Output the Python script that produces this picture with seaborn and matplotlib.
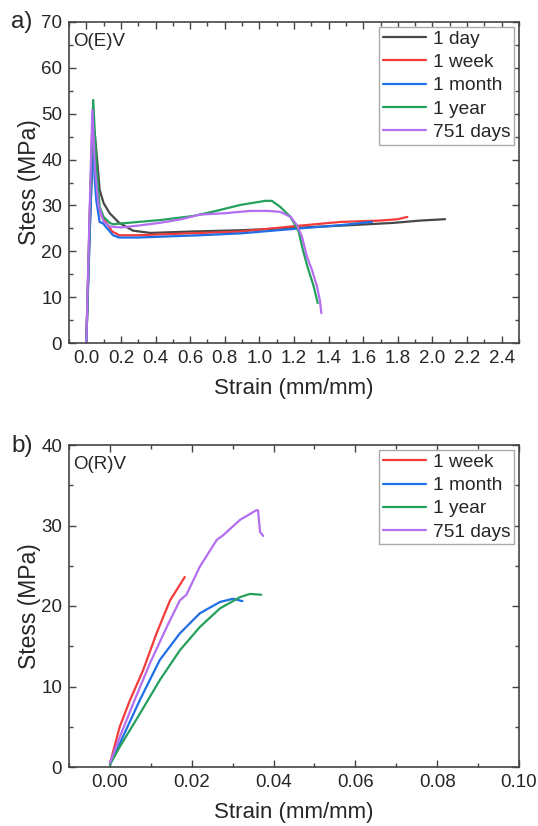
import pandas as pd
import seaborn as sns
import numpy as np
import matplotlib.pyplot as plt
from matplotlib.ticker import MultipleLocator

sns.set_style("ticks")
plt.rcParams['font.family'] = ['Liberation Sans', 'DejaVu Sans']

# panel a) O(E)V, strain (mm/mm) vs stress (MPa)
day1_x = [0.0, 0.02, 0.035, 0.048, 0.06, 0.077, 0.1, 0.135, 0.19, 0.27, 0.37, 0.6, 0.9, 1.2, 1.53, 1.776, 1.93, 2.073]
day1_y = [0, 25, 40, 46, 41, 33.4, 30.5, 28.3, 26.2, 24.5, 24.0, 24.3, 24.6, 25.1, 25.7, 26.2, 26.7, 27.0]
week1_x = [0.0, 0.02, 0.035, 0.05, 0.07, 0.09, 0.116, 0.15, 0.19, 0.3, 0.66, 0.89, 1.237, 1.468, 1.7, 1.8, 1.855]
week1_y = [0, 28, 47.5, 38, 30, 27.5, 26.2, 24.3, 23.5, 23.5, 24.0, 24.3, 25.6, 26.4, 26.7, 27.0, 27.5]
month1_x = [0.0, 0.02, 0.038, 0.048, 0.058, 0.077, 0.096, 0.154, 0.19, 0.3, 0.66, 0.89, 1.237, 1.468, 1.65]
month1_y = [0, 24, 44.7, 36, 31, 26.4, 26.1, 23.5, 23.0, 23.0, 23.5, 23.9, 25.0, 25.7, 26.4]
year1_x = [0.0, 0.02, 0.04, 0.058, 0.077, 0.1, 0.135, 0.154, 0.3, 0.425, 0.618, 0.75, 0.889, 1.034,
           1.072, 1.12, 1.18, 1.227, 1.25, 1.275, 1.3, 1.314, 1.337]
year1_y = [0, 28, 53, 39, 29.7, 27.5, 26.2, 25.9, 26.4, 26.8, 27.7, 28.8, 30.1, 31.0,
           31.0, 29.7, 27.5, 24.3, 20.5, 17.0, 14.0, 12.3, 8.7]
day751_x = [0.0, 0.02, 0.035, 0.05, 0.07, 0.1, 0.135, 0.2, 0.3, 0.425, 0.55, 0.657, 0.8, 0.947, 1.05,
            1.12, 1.18, 1.217, 1.246, 1.275, 1.304, 1.333, 1.349, 1.358]
day751_y = [0, 30, 50.8, 38, 30, 26.5, 25.4, 25.2, 25.6, 26.2, 27.0, 28.0, 28.3, 28.8, 28.8,
            28.6, 27.5, 25.7, 23.2, 18.8, 15.9, 12.3, 9.4, 6.5]

# panel b) O(R)V
r_week1_x = [0, 0.0024, 0.0049, 0.0081, 0.0114, 0.0147, 0.0183]
r_week1_y = [0.4, 5.0, 8.3, 12.0, 16.6, 20.7, 23.6]
r_month1_x = [0, 0.0024, 0.0073, 0.0122, 0.0171, 0.022, 0.0269, 0.0301, 0.0324]
r_month1_y = [0.3, 2.9, 8.3, 13.3, 16.6, 19.1, 20.5, 20.9, 20.6]
r_year1_x = [0, 0.0024, 0.0073, 0.0122, 0.0171, 0.022, 0.0269, 0.0318, 0.0342, 0.037]
r_year1_y = [0.3, 2.5, 6.6, 10.8, 14.5, 17.4, 19.7, 21.1, 21.5, 21.4]
r_day751_x = [0, 0.0024, 0.0057, 0.0098, 0.0139, 0.0171, 0.0187, 0.022, 0.0261, 0.0277, 0.0318,
              0.0358, 0.0362, 0.0367, 0.0375]
r_day751_y = [0.5, 3.7, 7.9, 12.9, 17.4, 20.7, 21.4, 24.9, 28.2, 28.8, 30.7,
              31.9, 31.9, 29.2, 28.7]

colors = {"1 day": "#474747", "1 week": "#f23b3b", "1 month": "#1f6fe6",
          "1 year": "#25a05c", "751 days": "#b46ef0"}


def make_df(curves):
	frames = []
	for label, (x, y) in curves.items():
		frames.append(pd.DataFrame({"strain": x, "stress": y, "age": label}))
	return pd.concat(frames, ignore_index=True)


df_a = make_df({"1 day": (day1_x, day1_y), "1 week": (week1_x, week1_y),
                "1 month": (month1_x, month1_y), "1 year": (year1_x, year1_y),
                "751 days": (day751_x, day751_y)})
df_b = make_df({"1 week": (r_week1_x, r_week1_y), "1 month": (r_month1_x, r_month1_y),
                "1 year": (r_year1_x, r_year1_y), "751 days": (r_day751_x, r_day751_y)})

fig = plt.figure(figsize=(5.38, 8.26), dpi=100)
ax1 = fig.add_axes([69/538, 1-343/826, 450/538, 321/826])
ax2 = fig.add_axes([69/538, 1-767/826, 450/538, 322/826])


def style_axes(ax, df, xlim, ylim, xmaj, xmin, ymaj, ymin, fmt, tag, panel, panel_y):
	sns.lineplot(data=df, x="strain", y="stress", hue="age", palette=colors, sort=False,
	             estimator=None, linewidth=1.6, ax=ax)
	ax.set_xlim(*xlim)
	ax.set_ylim(*ylim)
	ax.xaxis.set_major_locator(MultipleLocator(xmaj))
	ax.xaxis.set_minor_locator(MultipleLocator(xmin))
	ax.yaxis.set_major_locator(MultipleLocator(ymaj))
	ax.yaxis.set_minor_locator(MultipleLocator(ymin))
	ax.xaxis.set_major_formatter(plt.FormatStrFormatter(fmt))
	ax.tick_params(which="both", direction="in", top=True, right=True, labeltop=False,
	               labelright=False, color="#444444", labelsize=13.5, pad=5)
	ax.tick_params(which="major", length=5, width=1)
	ax.tick_params(which="minor", length=3, width=1)
	for s in ax.spines.values():
		s.set_color("#444444")
		s.set_linewidth(1.2)
	ax.set_xlabel("Strain (mm/mm)", fontsize=16, labelpad=8)
	ax.set_ylabel("Stess (MPa)", fontsize=16.5, labelpad=0)
	ax.text(0.01, 0.965, tag, transform=ax.transAxes, ha="left", va="top", fontsize=13.5)
	fig.text(11/538, panel_y, panel, ha="left", va="center", fontsize=17.5)
	leg = ax.legend(loc="upper right", fontsize=13.8, frameon=True, fancybox=False,
	                handlelength=2.25, handletextpad=0.35, labelspacing=0.3,
	                borderpad=0.2, borderaxespad=0.25, framealpha=1)
	leg.get_frame().set_edgecolor("#aaaaaa")
	leg.get_frame().set_linewidth(1)
	for line in leg.get_lines():
		line.set_linewidth(1.6)


style_axes(ax1, df_a, (-0.1, 2.5), (0, 70), 0.2, 0.1, 10, 5, "%.1f", "O(E)V", "a)", 1-22/826)
style_axes(ax2, df_b, (-0.01, 0.10), (0, 40), 0.02, 0.01, 10, 5, "%.2f", "O(R)V", "b)", 1-446/826)

fig.savefig("out.png", dpi=100)
